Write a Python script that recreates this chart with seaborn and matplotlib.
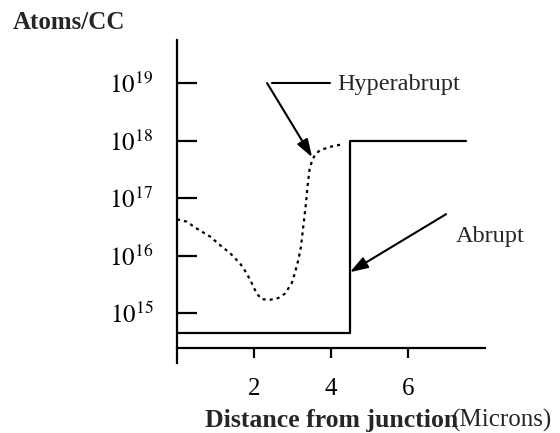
import numpy as np
import pandas as pd
import seaborn as sns
import matplotlib.pyplot as plt

# doping profiles (x in microns, y as log10 of atoms/cc)
abrupt_x = [0, 4.5, 4.5, 7.5]
abrupt_log = [14.66, 14.66, 18.0, 18.0]

hyper_x = [0, 0.25, 0.51, 0.86, 1.12, 1.38, 1.64, 1.81, 1.94, 2.07, 2.20, 2.42,
           2.63, 2.81, 2.98, 3.06, 3.15, 3.22, 3.26, 3.30, 3.35, 3.39, 3.44,
           3.50, 3.58, 3.71, 3.97, 4.32]
hyper_log = [16.63, 16.59, 16.47, 16.33, 16.18, 16.04, 15.86, 15.69, 15.52,
             15.34, 15.24, 15.23, 15.26, 15.34, 15.52, 15.69, 15.92, 16.15,
             16.39, 16.62, 16.91, 17.20, 17.49, 17.63, 17.75, 17.83, 17.89,
             17.94]

ytick_vals = [1e15, 1e16, 1e17, 1e18, 1e19]
ytick_labels = ["$10^{15}$", "$10^{16}$", "$10^{17}$", "$10^{18}$", "$10^{19}$"]
xtick_vals = [2, 4, 6]
xtick_labels = ["2", "4", "6"]

df_ab = pd.DataFrame({"x": abrupt_x, "y": np.power(10.0, abrupt_log)})
df_hy = pd.DataFrame({"x": hyper_x, "y": np.power(10.0, hyper_log)})

sns.set_style("white")
plt.rcParams["font.family"] = ["Liberation Serif", "DejaVu Serif"]
plt.rcParams["mathtext.fontset"] = "stix"

fig = plt.figure(figsize=(5.6, 4.33), dpi=100)
ax = fig.add_axes([177 / 560, 1 - 363 / 433, 308 / 560, 323 / 433])

sns.lineplot(data=df_ab, x="x", y="y", ax=ax, color="black", lw=1.6,
             sort=False, estimator=None)
sns.lineplot(data=df_hy, x="x", y="y", ax=ax, color="black", lw=1.6,
             sort=False, estimator=None, linestyle=(0, (1.4, 1.8)))

ax.set_yscale("log")
ax.set_xlim(0, 8)
ax.set_ylim(10 ** 14.13, 10 ** 19.75)

for s in ["top", "right"]:
    ax.spines[s].set_visible(False)
ax.spines["left"].set_linewidth(1.6)
ax.spines["left"].set_color("black")
ax.spines["bottom"].set_linewidth(1.6)
ax.spines["bottom"].set_color("black")
ax.spines["bottom"].set_position(("data", 10 ** 14.39))

ax.minorticks_off()
ax.set_yticks(ytick_vals)
ax.set_yticklabels(ytick_labels)
ax.set_xticks(xtick_vals)
ax.set_xticklabels(xtick_labels)
ax.tick_params(axis="y", left=True, direction="in", length=14.5, width=1.6,
               pad=17, color="black", labelsize=18, labelcolor="black")
ax.tick_params(axis="x", bottom=True, direction="out", length=7.5, width=1.6,
               pad=14, color="black", labelsize=18, labelcolor="black")
ax.set_xlabel("")
ax.set_ylabel("")

arrow = dict(arrowstyle="-|>,head_length=0.6,head_width=0.2", color="black",
             lw=1.5, mutation_scale=18, shrinkA=0, shrinkB=0)
ax.annotate("", xy=(3.51, 10 ** 17.71), xytext=(2.34, 10 ** 19.0), arrowprops=arrow)
ax.plot([2.47, 3.97], [10 ** 19.0, 10 ** 19.0], color="black", lw=1.5, clip_on=False)
ax.text(4.16, 10 ** 18.88, "Hyperabrupt", fontsize=17.5, va="baseline", ha="left")
ax.annotate("", xy=(4.49, 10 ** 15.71), xytext=(6.99, 10 ** 16.72), arrowprops=arrow)
ax.text(7.25, 10 ** 16.23, "Abrupt", fontsize=17.5, va="baseline", ha="left")

fig.text(13 / 560, 1 - 29 / 433, "Atoms/CC", fontsize=18, fontweight="bold",
         va="baseline", ha="left")
fig.text(205 / 560, 6 / 433, "Distance from junction", fontsize=18.5,
         fontweight="bold", va="baseline", ha="left")
fig.text(452 / 560, 6 / 433, "(Microns)", fontsize=18, va="baseline", ha="left")

fig.savefig("out.png", dpi=100)
